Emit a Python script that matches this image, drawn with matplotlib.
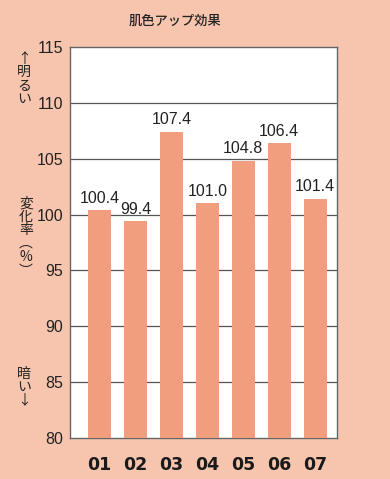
import matplotlib
matplotlib.use('Agg')
import matplotlib.pyplot as plt

plt.rcParams['font.family'] = ['Noto Sans CJK JP', 'DejaVu Sans']

labels = ["01", "02", "03", "04", "05", "06", "07"]
values = [100.4, 99.4, 107.4, 101.0, 104.8, 106.4, 101.4]
yticks = [80, 85, 90, 95, 100, 105, 110, 115]

BG = "#F7C5AE"
BAR = "#F09E7E"
NUM_FONT = ['Liberation Sans Narrow', 'Liberation Sans', 'DejaVu Sans']

fig = plt.figure(figsize=(3.9, 4.79), dpi=100, facecolor=BG)
ax = fig.add_axes([70 / 390, 1 - 438 / 479, 267 / 390, 391 / 479])
ax.set_facecolor("white")

x = list(range(len(labels)))
ax.bar(x, [v - 80 for v in values], bottom=80, width=0.64, color=BAR, zorder=3)
for xi, v in zip(x, values):
    ax.text(xi, v + 0.4, f"{v:.1f}", ha='center', va='bottom', fontsize=11.5,
            color="#222222", family=NUM_FONT, zorder=4)

for y in yticks[1:-1]:
    ax.axhline(y, color="#555555", linewidth=0.9, zorder=1)

ax.set_ylim(80, 115)
ax.set_xlim(-0.82, 6.61)
ax.set_yticks(yticks)
ax.set_yticklabels([str(t) for t in yticks], fontsize=11.5, family=NUM_FONT, color="#222222")
ax.set_xticks(x)
ax.set_xticklabels(labels, fontsize=12.5, fontweight='heavy', family='DejaVu Sans', color="#1a1a1a")
ax.tick_params(axis='both', length=0)
ax.tick_params(axis='y', pad=5)
ax.tick_params(axis='x', pad=13)
for s in ax.spines.values():
    s.set_color("#666666")
    s.set_linewidth(1.0)

fig.text(175 / 390, 1 - 21 / 479, "肌色アップ効果", ha='center', va='center', fontsize=9.5,
         fontweight='medium', color="#222222")
fig.text(24 / 390, 1 - 79 / 479, "↑\n明\nる\nい", ha='center', va='center', fontsize=10,
         linespacing=0.95, color="#222222")
fig.text(26 / 390, 1 - 237 / 479, "変\n化\n率\n︵\n%\n︶", ha='center', va='center', fontsize=10,
         linespacing=0.95, color="#222222")
fig.text(24 / 390, 1 - 387 / 479, "暗\nい\n↓", ha='center', va='center', fontsize=10,
         linespacing=0.95, color="#222222")

fig.savefig("out.png", dpi=100, facecolor=BG)
